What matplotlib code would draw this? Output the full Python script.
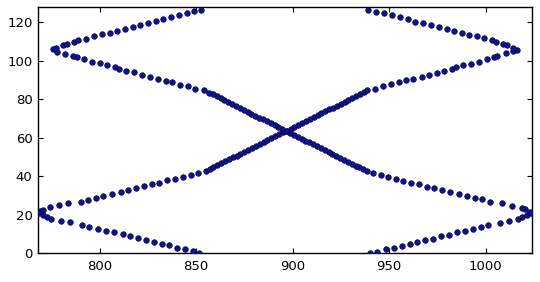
import matplotlib
matplotlib.use("Agg")
import matplotlib.pyplot as plt

# path starting bottom-left (x=851, y=0), bouncing off left, crossing, off right
path_a_x = [
    851.4, 848.2, 844.0, 839.9, 835.9, 832.1, 828.0, 824.0, 820.0, 815.7, 811.9,
    807.2, 803.1, 798.9, 794.6, 791.0, 784.6, 779.8, 774.7, 772.5, 770.8, 768.4,
    768.8, 770.8, 774.2, 778.9, 783.7, 790.1, 793.7, 797.9, 801.8, 806.2, 810.9,
    814.8, 818.6, 822.8, 826.9, 830.9, 834.9, 839.0, 843.0, 847.1, 851.1, 854.9,
    856.9, 858.9, 860.9, 862.9, 864.9, 866.9, 868.9, 870.9, 872.9, 874.9, 876.9,
    878.9, 880.9, 882.9, 884.9, 886.9, 888.9, 890.9, 892.9, 894.9, 896.9, 898.9,
    900.9, 902.9, 904.9, 906.9, 908.9, 910.9, 912.9, 914.9, 916.9, 918.9, 920.9,
    922.9, 924.9, 926.9, 928.9, 930.9, 932.9, 934.9, 936.9,
    938.3, 942.6, 946.6, 950.8, 954.9, 958.5, 962.5, 966.8, 970.6, 974.6, 978.5,
    982.5, 984.4, 988.4, 992.4, 996.4, 1000.5, 1004.3, 1006.0, 1010.5, 1014.3, 1016.1,
    1014.3, 1010.9, 1009.1, 1005.3, 1003.3, 999.3, 995.3, 991.5, 987.6, 983.7,
    979.8, 975.6, 971.7, 967.7, 963.4, 959.6, 955.6, 951.4, 947.3, 943.2, 939.2,
]
path_a_y = [
    0.0, 0.9, 1.9, 2.8, 4.0, 4.8, 5.9, 6.8, 7.6, 8.8, 9.9,
    10.9, 11.6, 12.5, 13.5, 14.6, 16.0, 16.6, 17.5, 18.6, 19.8, 21.0,
    21.6, 22.4, 24.1, 24.8, 25.9, 26.7, 27.7, 28.6, 29.5, 30.9, 31.7,
    32.8, 33.8, 34.7, 35.9, 36.6, 37.8, 38.7, 39.4, 40.7, 41.5, 42.7,
    43.7, 44.7, 45.7, 46.7, 47.7, 48.7, 49.7, 50.7, 51.7, 52.7, 53.7,
    54.7, 55.7, 56.7, 57.7, 58.7, 59.7, 60.7, 61.7, 62.7, 63.7, 64.7,
    65.7, 66.7, 67.7, 68.7, 69.7, 70.7, 71.7, 72.7, 73.7, 74.7, 75.7,
    76.7, 77.7, 78.7, 79.7, 80.7, 81.7, 82.7, 83.7,
    84.8, 85.5, 86.7, 87.8, 89.0, 89.9, 90.5, 91.6, 92.6, 93.8, 94.7,
    95.7, 96.6, 97.7, 98.3, 99.6, 100.9, 101.8, 102.5, 103.9, 105.1, 105.8,
    106.5, 108.1, 108.7, 109.8, 110.7, 111.7, 112.9, 113.6, 114.5, 115.7,
    116.4, 117.8, 118.6, 119.5, 120.4, 121.6, 122.6, 123.7, 124.7, 125.4, 126.4,
]

# mirror path starting bottom-right (x=940, y=0)
path_b_x = [
    940.1, 943.9, 948.4, 952.5, 956.5, 960.8, 964.6, 968.5, 972.5, 976.7, 980.8,
    985.3, 989.4, 993.6, 997.4, 1001.3, 1007.4, 1012.2, 1016.9, 1018.6, 1021.2, 1023.6,
    1022.9, 1020.4, 1018.6, 1013.5, 1008.3, 1002.2, 998.2, 994.5, 990.2, 986.3,
    981.5, 977.4, 973.2, 969.4, 965.4, 961.3, 957.3, 953.5, 949.5, 945.6, 941.4,
    938.6, 936.6, 934.6, 932.6, 930.6, 928.6, 926.6, 924.6, 922.6, 920.6, 918.6,
    916.6, 914.6, 912.6, 910.6, 908.6, 906.6, 904.6, 902.6, 900.6, 898.6, 896.6,
    894.6, 892.6, 890.6, 888.6, 886.6, 884.6, 882.6, 880.6, 878.6, 876.6, 874.6,
    872.6, 870.6, 868.6, 866.6, 864.6, 862.6, 860.6, 858.6, 856.6,
    853.9, 849.5, 845.9, 841.7, 837.6, 834.2, 830.0, 825.9, 822.0, 817.9, 813.8,
    810.0, 808.1, 803.8, 800.3, 796.1, 792.0, 788.0, 786.0, 782.0, 778.0, 775.9,
    777.2, 781.1, 782.9, 786.8, 788.9, 792.9, 796.9, 801.0, 805.2, 808.9,
    813.1, 817.1, 821.0, 825.2, 829.0, 832.8, 836.9, 841.1, 845.1, 849.0, 852.3,
]
path_b_y = [
    0.0, 0.7, 1.9, 2.6, 3.6, 4.7, 5.6, 6.6, 7.4, 8.7, 9.5,
    10.9, 11.6, 12.6, 13.5, 14.6, 15.8, 16.8, 17.5, 18.9, 19.8, 21.0,
    21.5, 22.7, 23.6, 24.6, 25.9, 26.7, 27.9, 28.8, 29.7, 30.7,
    31.6, 32.8, 33.8, 34.5, 35.7, 36.6, 37.6, 38.7, 39.7, 40.6, 41.5,
    42.5, 43.5, 44.5, 45.5, 46.5, 47.5, 48.5, 49.5, 50.5, 51.5, 52.5,
    53.5, 54.5, 55.5, 56.5, 57.5, 58.5, 59.5, 60.5, 61.5, 62.5, 63.5,
    64.5, 65.5, 66.5, 67.5, 68.5, 69.5, 70.5, 71.5, 72.5, 73.5, 74.5,
    75.5, 76.5, 77.5, 78.5, 79.5, 80.5, 81.5, 82.5, 83.5,
    84.7, 85.5, 86.9, 87.6, 88.8, 89.6, 90.7, 91.6, 92.6, 94.0, 94.9,
    95.9, 96.8, 97.7, 98.7, 99.5, 100.8, 101.8, 102.5, 103.5, 104.4, 106.0,
    106.8, 108.2, 108.9, 109.8, 110.7, 111.5, 112.9, 113.8, 114.6, 115.5,
    116.4, 117.8, 118.6, 119.5, 120.9, 121.6, 122.9, 123.7, 124.9, 125.7, 126.4,
]

x_ticks = [800, 850, 900, 950, 1000]
y_ticks = [0, 20, 40, 60, 80, 100, 120]

plt.rcParams.update({
    "font.family": "DejaVu Sans",
    "font.size": 9.5,
    "xtick.direction": "in",
    "ytick.direction": "in",
    "xtick.top": True,
    "ytick.right": True,
    "xtick.major.size": 3.5,
    "ytick.major.size": 3.5,
    "xtick.major.pad": 5,
    "ytick.major.pad": 4,
})

fig = plt.figure(figsize=(5.4, 2.82), dpi=100)
ax = fig.add_axes([38 / 540, 1 - 253 / 282, 494 / 540, 246 / 282])

for xs, ys in [(path_a_x, path_a_y), (path_b_x, path_b_y)]:
    ax.scatter(xs, ys, s=16, facecolor="#12128a", edgecolor="#05054a",
               linewidths=0.5, zorder=3)

ax.set_xlim(768, 1024)
ax.set_ylim(0, 128)
ax.set_xticks(x_ticks)
ax.set_yticks(y_ticks)
for sp in ax.spines.values():
    sp.set_linewidth(1.0)

fig.savefig("out.png", dpi=100)
